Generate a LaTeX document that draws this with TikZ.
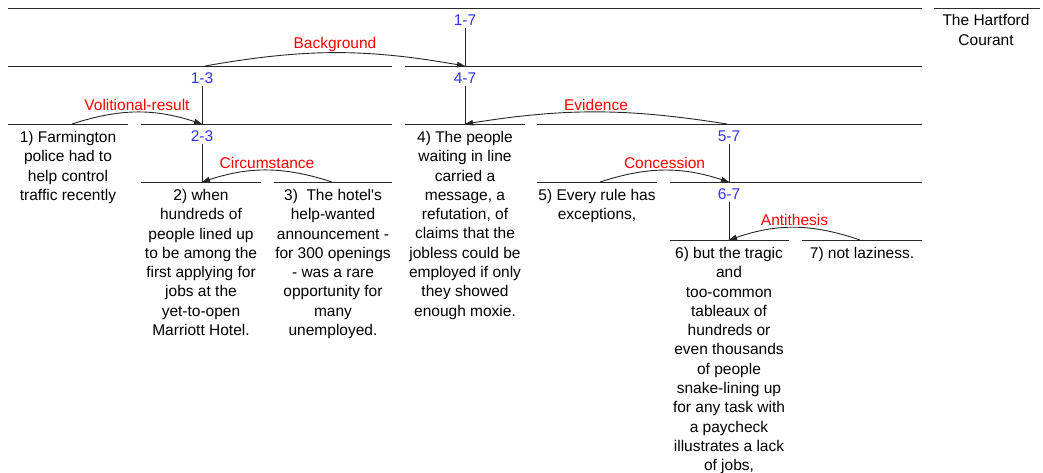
\documentclass[tikz,border=0pt]{standalone}
\usepackage{fontspec}
\setmainfont{Liberation Sans}
\usetikzlibrary{arrows.meta}
\definecolor{relred}{RGB}{255,0,0}
\definecolor{spanblue}{RGB}{50,50,255}
\tikzset{
  seg/.style={draw=black!85,line width=0.9pt},
  edu/.style={anchor=north,align=center,inner sep=0pt,font=\fontsize{15.5}{19.3}\selectfont},
  spanlbl/.style={text=spanblue,inner sep=2pt,font=\fontsize{15.5}{19.3}\selectfont},
  rellbl/.style={text=relred,inner sep=1pt,midway,above,font=\fontsize{15.5}{19.3}\selectfont},
  rel/.style={seg,-{Triangle[length=8pt,width=5.5pt]}},
}
\begin{document}
\begin{tikzpicture}[x=1pt,y=-1pt]
\useasboundingbox (0,0) rectangle (1043,472);
\foreach \a/\b/\y in {8/922/8,934/1040/8,8/392/66,405/922/66,8/128/124,141/392/124,405/525/124,537/922/124,141/261/182,274/392/182,537/657/182,670/922/182,670/789/240,802/922/240}
    \draw[seg] (\a,\y) -- (\b,\y);

\node[edu,anchor=center] (src) at (986,30) {The Hartford\\Courant};

\foreach \n/\t/\x/\y in {17/1-7/465/8,13/1-3/202/66,47/4-7/465/66,23/2-3/202/124,57/5-7/729/124,67/6-7/729/182} {
    \node[spanlbl] (s\n) at (\x,\y+12) {\t};
    \coordinate (n\n) at (\x,\y+58);
    \draw[seg] (s\n) -- (n\n);
}

\node[edu] (u1) at (68,131) {1) Farmington\\police had to\\help control\\traffic recently};
\node[edu] (u2) at (201,189) {2) when\\hundreds of\\people lined up\\to be among the\\first applying for\\jobs at the\\yet-to-open\\Marriott Hotel.};
\node[edu] (u3) at (333,189) {3)\ \ The hotel\textquotesingle s\\help-wanted\\announcement -\\for 300 openings\\- was a rare\\opportunity for\\many\\unemployed.};
\node[edu] (u4) at (465,131) {4) The people\\waiting in line\\carried a\\message, a\\refutation, of\\claims that the\\jobless could be\\employed if only\\they showed\\enough moxie.};
\node[edu] (u5) at (597,189) {5) Every rule has\\exceptions,};
\node[edu] (u6) at (729,247) {6) but the tragic\\and\\too-common\\tableaux of\\hundreds or\\even thousands\\of people\\snake-lining up\\for any task with\\a paycheck\\illustrates a lack\\of jobs,};
\node[edu] (u7) at (862,247) {7) not laziness.};

\coordinate (r17) at (205,66);
\coordinate (r13) at (72,124);
\coordinate (r47) at (727,124);
\coordinate (r23) at (332,182);
\coordinate (r57) at (600,182);
\coordinate (r67) at (860,240);

\draw[rel] (r17) to[bend left=10] node[rellbl] {Background} (n17);
\draw[rel] (r13) to[bend left=18] node[rellbl] {Volitional-result} (n13);
\draw[rel] (r47) to[bend right=9] node[rellbl] {Evidence} (n47);
\draw[rel] (r23) to[bend right=18] node[rellbl] {Circumstance} (n23);
\draw[rel] (r57) to[bend left=18] node[rellbl] {Concession} (n57);
\draw[rel] (r67) to[bend right=19] node[rellbl] {Antithesis} (n67);
\end{tikzpicture}
\end{document}
